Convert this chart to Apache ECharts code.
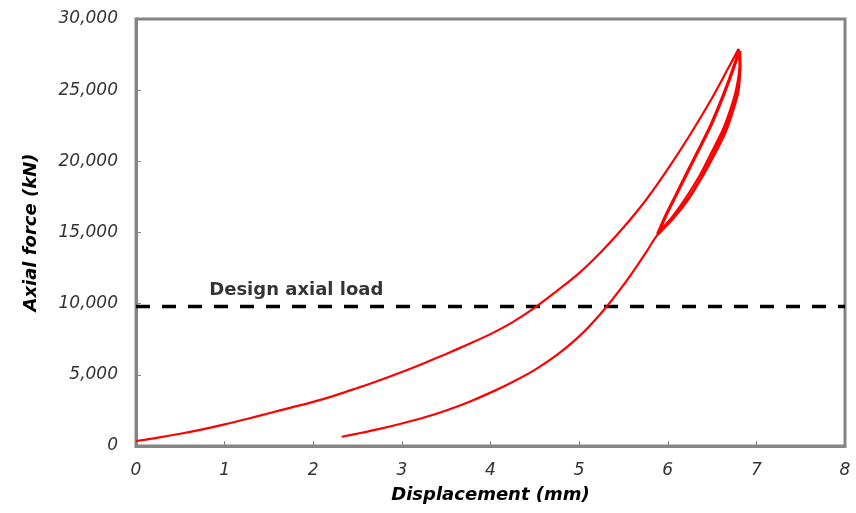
<!DOCTYPE html>
<html>
<head>
<meta charset="utf-8">
<script src="https://cdn.jsdelivr.net/npm/echarts@6/dist/echarts.min.js"></script>
<style>
  html, body { margin: 0; padding: 0; background: #ffffff; }
  #chart { width: 856px; height: 513px; }
</style>
</head>
<body>
<div id="chart"></div>
<script>
// Axial force vs displacement, [displacement (mm), force (kN)]
const loadingBranch = [
  [0.00, 350], [0.25, 590], [0.50, 860], [0.75, 1170], [1.00, 1520],
  [1.25, 1900], [1.50, 2300], [1.75, 2700], [2.00, 3100], [2.25, 3560],
  [2.50, 4080], [2.75, 4620], [3.00, 5200], [3.25, 5820], [3.50, 6470],
  [3.75, 7150], [4.00, 7860], [4.25, 8700], [4.50, 9720], [4.75, 10900],
  [5.00, 12150], [5.25, 13650], [5.50, 15350], [5.75, 17250], [6.00, 19450],
  [6.25, 21850], [6.50, 24450], [6.70, 26750], [6.80, 27900]
];
const unloadCycle1 = [
  [6.81, 26800], [6.78, 25300], [6.72, 23900], [6.62, 22200], [6.50, 20700],
  [6.36, 19000], [6.20, 17400], [6.05, 16100], [5.88, 14900]
];
const reloadCycle1 = [
  [5.98, 16300], [6.10, 17800], [6.22, 19300], [6.35, 20900], [6.47, 22400],
  [6.58, 24000], [6.68, 25600], [6.76, 27000], [6.80, 27800]
];
const unloadCycle2 = [
  [6.82, 26600], [6.79, 25100], [6.73, 23700], [6.64, 22100], [6.52, 20600],
  [6.38, 18900], [6.22, 17300], [6.06, 16000], [5.89, 14850]
];
const reloadCycle2 = [
  [5.99, 16250], [6.11, 17750], [6.23, 19250], [6.36, 20850], [6.48, 22350],
  [6.59, 23950], [6.69, 25550], [6.77, 26950], [6.81, 27750]
];
const unloadingBranch = [
  [6.815, 26500], [6.80, 25000], [6.74, 23600], [6.65, 22000], [6.53, 20500],
  [6.38, 18800], [6.22, 17200], [6.05, 15900], [5.88, 14800], [5.75, 13550],
  [5.50, 11300], [5.25, 9350], [5.00, 7700], [4.75, 6400], [4.50, 5350],
  [4.25, 4500], [4.00, 3750], [3.75, 3080], [3.50, 2500], [3.25, 2000],
  [3.00, 1580], [2.75, 1200], [2.50, 870], [2.32, 650]
];
const designLoad = 9800;
const designLabel = 'Design axial load';
const designLabelAt = 0.77;
const xTicks = [0, 1, 2, 3, 4, 5, 6, 7, 8];
const yTicks = [0, 5000, 10000, 15000, 20000, 25000, 30000];

const tickFont = {
  fontFamily: 'DejaVu Sans',
  fontStyle: 'italic',
  fontSize: 17,
  color: '#333333'
};
const titleFont = {
  fontFamily: 'DejaVu Sans',
  fontStyle: 'italic',
  fontWeight: 'bold',
  fontSize: 18,
  color: '#000000'
};
const curveStyle = { color: '#ff0000', width: 2.2 };

function curve(name, data, smooth) {
  return {
    name: name,
    type: 'line',
    data: data,
    showSymbol: false,
    symbol: 'none',
    smooth: smooth,
    lineStyle: curveStyle,
    z: 3
  };
}

// the cycles are drawn as one continuous path from the peak down and back
const cyclePath = [[6.80, 27900]].concat(unloadCycle1, reloadCycle1, unloadCycle2, reloadCycle2);
const unloadPath = [[6.82, 27750]].concat(unloadingBranch);

const chart = echarts.init(document.getElementById('chart'), null, { renderer: 'canvas' });
chart.setOption({
  animation: false,
  backgroundColor: '#ffffff',
  grid: {
    left: 136, right: 11, top: 19, bottom: 67,
    show: true,
    borderColor: '#858585',
    borderWidth: 3,
    backgroundColor: '#ffffff'
  },
  xAxis: {
    type: 'value',
    min: xTicks[0],
    max: xTicks[xTicks.length - 1],
    interval: 1,
    name: 'Displacement (mm)',
    nameLocation: 'middle',
    nameGap: 40,
    nameTextStyle: titleFont,
    axisLine: { show: true, lineStyle: { color: '#858585', width: 3 } },
    axisTick: { show: true, inside: true, length: 5, lineStyle: { color: '#858585', width: 1 } },
    axisLabel: Object.assign({ margin: 16 }, tickFont),
    splitLine: { show: false }
  },
  yAxis: {
    type: 'value',
    min: yTicks[0],
    max: yTicks[yTicks.length - 1],
    interval: 5000,
    name: 'Axial force (kN)',
    nameLocation: 'middle',
    nameGap: 96,
    nameTextStyle: titleFont,
    axisLine: { show: true, lineStyle: { color: '#858585', width: 3 } },
    axisTick: { show: true, inside: true, length: 5, lineStyle: { color: '#858585', width: 1 } },
    axisLabel: Object.assign({
      margin: 18,
      formatter: function (v) { return v.toLocaleString('en-US'); }
    }, tickFont),
    splitLine: { show: false }
  },
  series: [
    curve('Loading', loadingBranch, 0.35),
    curve('Cycles', cyclePath, 0.2),
    curve('Unloading', unloadPath, 0.35),
    {
      name: 'Design axial load',
      type: 'line',
      data: [[xTicks[0], designLoad], [xTicks[xTicks.length - 1], designLoad]],
      showSymbol: false,
      symbol: 'none',
      lineStyle: { color: '#000000', width: 3.5, type: [14, 12] },
      z: 2
    },
    {
      name: 'label',
      type: 'scatter',
      data: [[designLabelAt, designLoad]],
      symbolSize: 0,
      label: {
        show: true,
        position: 'insideBottomLeft',
        formatter: designLabel,
        offset: [0, -2],
        fontFamily: 'DejaVu Sans',
        fontWeight: 'bold',
        fontSize: 18,
        color: '#000000',
        align: 'left',
        verticalAlign: 'bottom'
      },
      z: 4
    }
  ]
});
</script>
</body>
</html>
